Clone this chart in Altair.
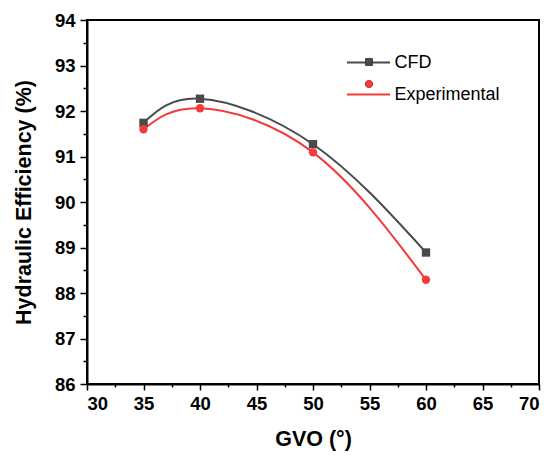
import altair as alt
import pandas as pd

# ---- data ----
gvo = [35, 40, 50, 60]
cfd = [91.74, 92.27, 91.27, 88.89]
experimental = [91.60, 92.06, 91.09, 88.29]
series_names = ["CFD", "Experimental"]
series_colors = ["#4a4a4a", "#f43a3a"]
series_shapes = ["square", "circle"]

x_ticks = [30, 32.5, 35, 37.5, 40, 42.5, 45, 47.5, 50, 52.5, 55, 57.5, 60, 62.5, 65, 67.5, 70]
y_ticks = [86, 86.5, 87, 87.5, 88, 88.5, 89, 89.5, 90, 90.5, 91, 91.5, 92, 92.5, 93, 93.5, 94]

df = pd.DataFrame({
    "GVO": gvo + gvo,
    "eff": cfd + experimental,
    "series": [series_names[0]] * len(gvo) + [series_names[1]] * len(gvo),
})

FONT = "Liberation Sans"

x_enc = alt.X(
    "GVO:Q",
    scale=alt.Scale(domain=[30, 70], nice=False, zero=False),
    axis=alt.Axis(
        values=x_ticks,
        labelExpr="datum.value % 5 === 0 ? format(datum.value, 'd') : ''",
        tickSize={"condition": {"test": "datum.value % 5 === 0", "value": 6}, "value": 3},
        labelPadding=4,
        titlePadding=16,
        grid=False,
    ),
    title="GVO (°)",
)
y_enc = alt.Y(
    "eff:Q",
    scale=alt.Scale(domain=[86, 94], nice=False, zero=False),
    axis=alt.Axis(
        values=y_ticks,
        labelExpr="datum.value % 1 === 0 ? format(datum.value, 'd') : ''",
        tickSize={"condition": {"test": "datum.value % 1 === 0", "value": 7}, "value": 4},
        labelPadding=5,
        titlePadding=19,
        grid=False,
    ),
    title="Hydraulic Efficiency (%)",
)

base = alt.Chart(df)

# curves; their legend draws the line part of each legend glyph
lines = base.mark_line(strokeWidth=2, interpolate="natural").encode(
    x=x_enc, y=y_enc,
    color=alt.Color(
        "series:N",
        scale=alt.Scale(domain=series_names, range=series_colors),
        legend=alt.Legend(
            title=None, orient="none", legendX=259, legendY=20,
            symbolType="stroke", symbolSize=1849, symbolStrokeWidth=2,
            labelOffset=3.5, labelFontSize=18, rowPadding=-9,
        ),
    ),
)

# markers; their legend (labels left empty) overlays the marker part of each glyph
marker_legend = alt.Legend(
    title=None, orient="none", legendX=273, legendY=33,
    symbolSize=56, labelExpr="''", labelFontSize=18, rowPadding=4,
)
points = base.transform_calculate(marker="datum.series").mark_point(
    filled=True, size=70, opacity=1
).encode(
    x=x_enc, y=y_enc,
    fill=alt.Fill("marker:N", scale=alt.Scale(range=series_colors),
                  sort=series_names, legend=marker_legend),
    shape=alt.Shape("marker:N", scale=alt.Scale(range=series_shapes),
                    sort=series_names, legend=marker_legend),
)

chart = alt.layer(lines, points).properties(
    width=452,
    height=364,
    padding={"left": 87, "top": 20, "right": 13, "bottom": 72},
    autosize=alt.AutoSizeParams(type="none"),
    background="white",
).configure_view(
    stroke="black", strokeWidth=2
).configure_axis(
    domainColor="black", domainWidth=2,
    tickColor="black", tickWidth=1.5,
    labelFont=FONT, labelFontSize=18.5, labelFontWeight="bold", labelColor="black",
    titleFont=FONT, titleFontSize=21.5, titleFontWeight="bold", titleColor="black",
).configure_legend(
    labelFont=FONT, labelColor="black", padding=0,
)

chart.save("out.html", embed_options={"renderer": "svg", "actions": False})
